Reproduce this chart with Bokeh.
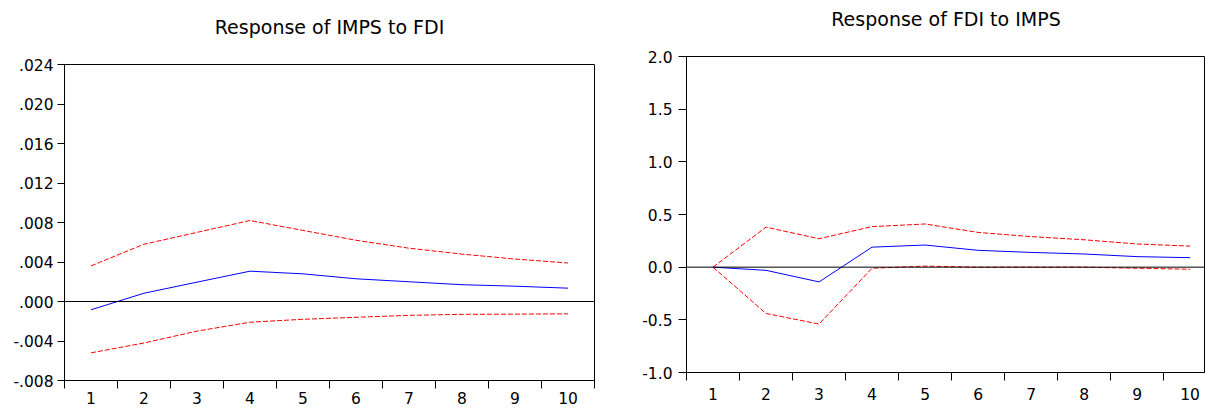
from bokeh.plotting import figure
from bokeh.models import Range1d, FixedTicker, CustomJSTickFormatter, Span, Spacer
from bokeh.layouts import row, column
from bokeh.embed import file_html
from bokeh.resources import INLINE

# ---------------- data ----------------
periods = [1, 2, 3, 4, 5, 6, 7, 8, 9, 10]

# Response of IMPS to FDI
imps_to_fdi = [-0.00084, 0.00084, 0.00196, 0.00307, 0.0028, 0.0023, 0.0020, 0.0017, 0.00155, 0.00135]
imps_to_fdi_upper = [0.0036, 0.0058, 0.0070, 0.0082, 0.0072, 0.0062, 0.0054, 0.0048, 0.0043, 0.0039]
imps_to_fdi_lower = [-0.0052, -0.0042, -0.0030, -0.0021, -0.0018, -0.0016, -0.0014, -0.0013, -0.00128, -0.00125]

# Response of FDI to IMPS
fdi_to_imps = [0.0, -0.03, -0.14, 0.19, 0.21, 0.16, 0.14, 0.125, 0.10, 0.09]
fdi_to_imps_upper = [0.0, 0.38, 0.27, 0.385, 0.41, 0.33, 0.29, 0.26, 0.22, 0.20]
fdi_to_imps_lower = [0.0, -0.44, -0.54, -0.01, 0.01, 0.0, 0.0, 0.0, -0.01, -0.02]

left_title = "Response of IMPS to FDI"
right_title = "Response of FDI to IMPS"
left_yticks = [-0.008, -0.004, 0.0, 0.004, 0.008, 0.012, 0.016, 0.020, 0.024]
right_yticks = [-1.0, -0.5, 0.0, 0.5, 1.0, 1.5, 2.0]

FONT = "DejaVu Sans"
TICK_SIZE = "15.5px"
TITLE_SIZE = "19px"
BLUE = "#0000FF"
RED = "#FF0000"
TITLE_STANDOFF = 15
TITLE_BOTTOM_PAD = 17


def style_axes(p, decimals, x_standoff, y_tick_out, y_standoff):
    xa = p.xaxis[0]
    xa.ticker = FixedTicker(ticks=periods, minor_ticks=[i + 0.5 for i in range(0, 11)])
    xa.major_tick_line_color = None
    xa.major_tick_out = 0
    xa.major_tick_in = 0
    xa.minor_tick_line_color = "black"
    xa.minor_tick_out = 8
    xa.minor_tick_in = 0
    xa.major_label_standoff = x_standoff
    xa.major_label_text_font = FONT
    xa.major_label_text_font_size = TICK_SIZE
    xa.major_label_text_color = "black"
    xa.axis_line_color = "black"

    ya = p.yaxis[0]
    ya.major_tick_out = y_tick_out
    ya.major_tick_in = 0
    ya.minor_tick_line_color = None
    ya.major_tick_line_color = "black"
    ya.major_label_standoff = y_standoff
    ya.major_label_text_font = FONT
    ya.major_label_text_font_size = TICK_SIZE
    ya.major_label_text_color = "black"
    ya.axis_line_color = "black"
    if decimals == 3:
        ya.formatter = CustomJSTickFormatter(
            code="var s = tick.toFixed(3); if (Math.abs(tick) < 1e-12) { s = '0.000'; } return s.replace('0.', '.');")
    else:
        ya.formatter = CustomJSTickFormatter(
            code="if (Math.abs(tick) < 1e-12) { return '0.0'; } return tick.toFixed(1);")

    p.xgrid.grid_line_color = None
    p.ygrid.grid_line_color = None
    p.outline_line_color = "black"
    p.outline_line_width = 1


def style_title(p, text):
    p.title.text = text
    p.title.align = "center"
    p.title.vertical_align = "top"
    p.title.text_font = FONT
    p.title.text_font_size = TITLE_SIZE
    p.title.text_font_style = "normal"
    p.title.text_color = "black"
    p.title.standoff = TITLE_STANDOFF
    p.title.padding = dict(left=0, right=0, top=0, bottom=TITLE_BOTTOM_PAD)


def draw_series(p, resp, upper, lower):
    p.add_layout(Span(location=0, dimension="width", line_color="black", line_width=1))
    p.line(periods, upper, line_color=RED, line_width=1, line_dash="5 2")
    p.line(periods, lower, line_color=RED, line_width=1, line_dash="5 2")
    p.line(periods, resp, line_color=BLUE, line_width=1)


LEFT_OFFSET = 8

# ---------------- left chart ----------------
p1 = figure(width=620, height=409 - LEFT_OFFSET, output_backend="svg", toolbar_location=None,
            x_range=Range1d(0.5, 10.5), y_range=Range1d(-0.008, 0.024),
            min_border_left=64, min_border_right=26, min_border_top=0, min_border_bottom=29,
            background_fill_color="white", border_fill_color="white")
p1.yaxis[0].ticker = FixedTicker(ticks=left_yticks)
style_axes(p1, 3, 3, 7, 4)
style_title(p1, left_title)
draw_series(p1, imps_to_fdi, imps_to_fdi_upper, imps_to_fdi_lower)

# ---------------- right chart ----------------
p2 = figure(width=585, height=409, output_backend="svg", toolbar_location=None,
            x_range=Range1d(0.5, 10.29), y_range=Range1d(-1.0, 2.0),
            min_border_left=66, min_border_right=0, min_border_top=0, min_border_bottom=37,
            background_fill_color="white", border_fill_color="white")
p2.yaxis[0].ticker = FixedTicker(ticks=right_yticks)
style_axes(p2, 1, 7, 8, 6)
style_title(p2, right_title)
draw_series(p2, fdi_to_imps, fdi_to_imps_upper, fdi_to_imps_lower)

left_col = column(Spacer(width=620, height=LEFT_OFFSET), p1)
layout = row(left_col, p2)
open("out.html", "w").write(file_html(layout, INLINE))
